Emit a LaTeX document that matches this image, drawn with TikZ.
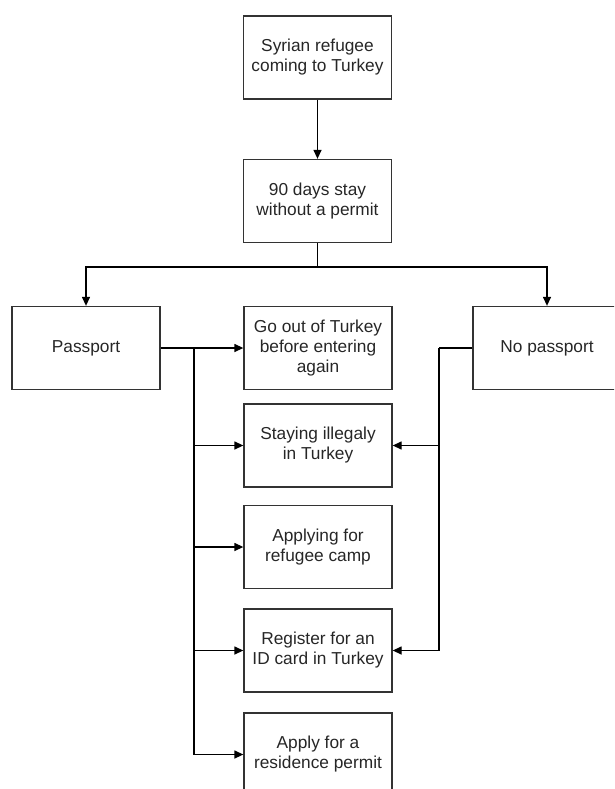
\documentclass[tikz,border=0pt]{standalone}
\usepackage{fontspec}
\setmainfont{Liberation Sans}
\usetikzlibrary{arrows.meta}
\begin{document}
\begin{tikzpicture}[x=1pt,y=-1pt,
  box/.style={draw=black!80, line width=1.3pt, rectangle, minimum width=148pt, minimum height=83pt,
    align=center, inner sep=0pt, text=black!85, font=\fontsize{17.3}{20}\selectfont},
  conn/.style={draw=black, line width=1.3pt},
  arr/.style={conn, -{Triangle[length=9pt,width=8pt]}}]
\useasboundingbox (0,0) rectangle (614,789);
\clip (0,0) rectangle (614,789);
\node[box] (top) at (317.5,57.5) {Syrian refugee\\coming to Turkey};
\node[box] (days) at (317.5,201) {90 days stay\\without a permit};
\node[box] (pass) at (86,348) {Passport};
\node[box] (nopass) at (547,348) {No passport};
\node[box] (go) at (318,348) {Go out of Turkey\\before entering\\again};
\node[box] (stay) at (318,445.5) {Staying illegaly\\in Turkey};
\node[box] (camp) at (318,547) {Applying for\\refugee camp};
\node[box] (reg) at (318,650.5) {Register for an\\ID card in Turkey};
\node[box] (res) at (318,754.5) {Apply for a\\residence permit};
\coordinate (split) at (317.5,267);
\coordinate (L) at (194,348);
\coordinate (R) at (439,348);
\draw[arr] (top) -- (days);
\draw[conn] (days.south) -- (split);
\draw[arr] (split) -| (pass.north);
\draw[arr] (split) -| (nopass.north);
\draw[arr] (pass.east) -- (go.west);
\draw[arr] (L) |- (stay.west);
\draw[arr] (L) |- (camp.west);
\draw[arr] (L) |- (reg.west);
\draw[arr] (L) |- (res.west);
\draw[conn] (nopass.west) -- (R);
\draw[arr] (R) |- (stay.east);
\draw[arr] (R) |- (reg.east);
\end{tikzpicture}
\end{document}
